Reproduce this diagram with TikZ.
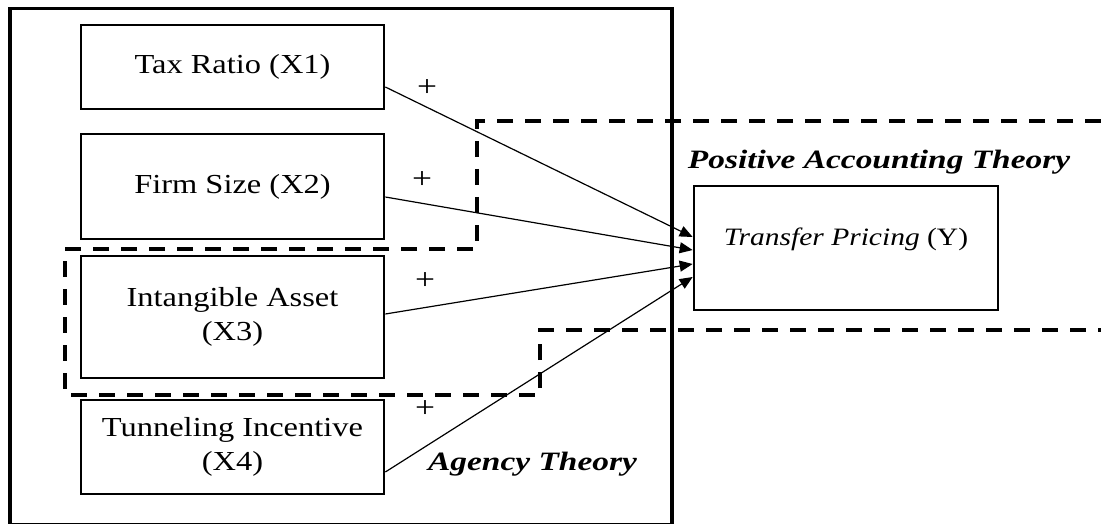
\documentclass[tikz,border=0pt]{standalone}
\usepackage{fontspec}
\setmainfont{Liberation Serif}[FakeStretch=1.18]
\newfontfamily\themefont{Liberation Serif}[FakeStretch=1.26]
\usetikzlibrary{arrows.meta,calc}

\begin{document}
\begin{tikzpicture}[x=1pt,y=-1pt,
  varbox/.style={draw, line width=2.7pt, inner sep=0pt, align=center,
    minimum width=303pt, font=\fontsize{27.5}{34}\selectfont},
  depbox/.style={draw, line width=2.7pt, inner sep=0pt,
    minimum width=304pt, minimum height=124pt},
  plain/.style={inner sep=0pt, font=\fontsize{25}{34}\selectfont},
  theory/.style={inner sep=0pt, font=\themefont\bfseries\itshape\fontsize{26.5}{30}\selectfont},
  region/.style={line width=4pt, dash pattern=on 16pt off 12pt},
  link/.style={line width=1.2pt, -{Triangle[length=13pt,width=11pt]}},
  sign/.style={inner sep=0pt, font=\fontsize{30}{32}\selectfont}
]
\useasboundingbox (0,0) rectangle (1101,524);

% agency theory frame
\draw[line width=3.3pt] (10,8.5) rectangle (672,524.8);

% positive accounting theory region
\draw[region] (1101,121) -- (477,121) -- (477,249) -- (65,249)
  -- (65,395) -- (540,395) -- (540,330) -- (1101,330);

% independent variables
\node[varbox, minimum height=84pt]  (x1) at (232.5,67)    {Tax Ratio (X1)};
\node[varbox, minimum height=105pt] (x2) at (232.5,186.5) {Firm Size (X2)};
\node[varbox, minimum height=122pt] (x3) at (232.5,317)   {Intangible Asset\\(X3)};
\node[varbox, minimum height=94pt]  (x4) at (232.5,447)   {Tunneling Incentive\\(X4)};

% dependent variable
\node[depbox] (tp) at (846,248) {};
\node[plain] (tplabel) at (846,239) {\textit{Transfer Pricing} (Y)};

% theory labels
\node[theory] (pat) at (879,162) {Positive Accounting Theory};
\node[theory] (agency) at (532.5,464) {Agency Theory};

% hypothesised effects
\draw[link] ($(x1.east)+(0,20)$)   -- ($(tp.west)+(0,-11)$);
\draw[link] ($(x2.east)+(0,10.5)$) -- ($(tp.west)+(0,2)$);
\draw[link] ($(x3.east)+(0,-3)$)   -- ($(tp.west)+(0,16)$);
\draw[link] ($(x4.east)+(0,25)$)   -- ($(tp.west)+(0,29)$);

% signs
\node[sign] (s1) at (427,88)  {+};
\node[sign] (s2) at (422,180) {+};
\node[sign] (s3) at (425,281) {+};
\node[sign] (s4) at (425,409) {+};
\end{tikzpicture}
\end{document}
